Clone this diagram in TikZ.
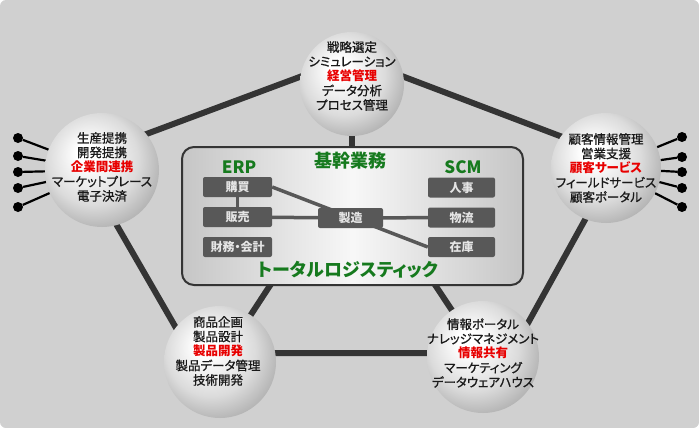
\documentclass[tikz,border=0pt]{standalone}
\usepackage{fontspec}
\usepackage{xcolor}
\usepackage{tikz}
\usetikzlibrary{positioning,backgrounds}

\newfontfamily\jp[RawFeature=+palt]{Noto Sans CJK JP}
\newfontfamily\jpm[RawFeature=+palt, FakeBold=0.9]{Noto Sans CJK JP}

\definecolor{bggray}{RGB}{208,208,208}
\definecolor{linegray}{RGB}{52,52,52}
\definecolor{itemgray}{RGB}{88,88,88}
\definecolor{titlegreen}{RGB}{22,122,30}
\definecolor{keyred}{RGB}{232,0,0}

\newcommand{\redkey}[1]{{\jp\bfseries\color{keyred}#1}}

\pgfdeclareradialshading{sphereshade}{\pgfpoint{-7bp}{8bp}}{%
  color(0bp)=(white); color(5bp)=(white); color(20bp)=(gray!28);
  color(29bp)=(gray!58); color(50bp)=(gray!58)}

\tikzset{
  sphere/.style={circle, shading=sphereshade, inner sep=0pt},
  spheretext/.style={align=center, inner sep=0pt, text=black!90,
    font=\jpm\fontsize{12.5}{14.5}\selectfont},
  item/.style={fill=itemgray, rounded corners=2pt, minimum height=20pt,
    inner sep=0pt, text=white!90!black, font=\jp\bfseries\fontsize{12}{14}\selectfont},
  title/.style={text=titlegreen, font=\jp\bfseries\fontsize{18}{21}\selectfont},
  link/.style={line width=6pt, draw=linegray, shorten <=-4pt, shorten >=-4pt},
  pin/.style={line width=2.2pt, draw=black},
  dot/.style={circle, fill=black, minimum size=10pt, inner sep=0pt},
  flow/.style={line width=3.5pt, draw=itemgray}
}

\begin{document}
\begin{tikzpicture}[x=1pt, y=-1pt]
\useasboundingbox (0,0) rectangle (699,428);

% nodes %
\node[sphere, minimum size=104pt] (plan) at (352,84) {};
\node[sphere, minimum size=114pt] (partner) at (102,170) {};
\node[sphere, minimum size=110pt] (customer) at (606,168) {};
\node[sphere, minimum size=112pt] (product) at (220,362) {};
\node[sphere, minimum size=112pt] (info) at (483,357) {};

\node[spheretext] (plantext) at (352,76) {戦略選定\\シミュレーション\\\redkey{経営管理}\\データ分析\\プロセス管理};
\node[spheretext] (partnertext) at (102,167) {生産提携\\開発提携\\\redkey{企業間連携}\\マーケットプレース\\電子決済};
\node[spheretext] (customertext) at (606,168) {顧客情報管理\\営業支援\\\redkey{顧客サービス}\\フィールドサービス\\顧客ポータル};
\node[spheretext] (producttext) at (218,351) {商品企画\\製品設計\\\redkey{製品開発}\\製品データ管理\\技術開発};
\node[spheretext] (infotext) at (483,353) {情報ポータル\\ナレッジマネジメント\\\redkey{情報共有}\\マーケティング\\データウェアハウス};

\node[item, minimum width=69pt] (kobai) at (237.5,187) {購買};
\node[item, minimum width=69pt] (hanbai) at (237.5,217) {販売};
\node[item, minimum width=69pt] (zaimu) at (237.5,247) {財務・会計};
\node[item, minimum width=65pt] (seizo) at (350.5,218) {製造};
\node[item, minimum width=67pt] (jinji) at (461.5,187.5) {人事};
\node[item, minimum width=67pt] (butsuryu) at (461.5,217.5) {物流};
\node[item, minimum width=67pt] (zaiko) at (461.5,247) {在庫};

\node[title, font=\jp\bfseries\fontsize{17}{19}\selectfont] (erp) at (239,167) {ERP};
\node[title] (kikan) at (350,161) {基幹業務};
\node[title, font=\jp\bfseries\fontsize{17}{19}\selectfont] (scm) at (463,167) {SCM};
\node[title] (logi) at (348,270) {トータルロジスティック};

\node[dot] (pl1) at (18,138) {};
\node[dot] (pl2) at (18,156) {};
\node[dot] (pl3) at (18,172) {};
\node[dot] (pl4) at (18,188) {};
\node[dot] (pl5) at (18,207) {};
\node[dot] (pr1) at (682,137) {};
\node[dot] (pr2) at (682,157) {};
\node[dot] (pr3) at (682,172) {};
\node[dot] (pr4) at (682,188) {};
\node[dot] (pr5) at (682,207) {};

\coordinate (hub) at (352,160);

\begin{pgfonlayer}{background}
\fill[bggray, rounded corners=6pt] (0,0) rectangle (699,428);

% edges %
\draw[link] (partner.39) -- (plan.172);
\draw[link] (plan.8) -- (customer.145);
\draw[link] (partner.-75) -- (product.142);
\draw[link] (customer.-112) -- (info.37);
\draw[link] (product.9) -- (info.176);
\draw[link] (plan) -- (hub);
\draw[link] (hub) -- (product);
\draw[link] (hub) -- (info);

\draw[pin] (partner) -- (pl1);
\draw[pin] (partner) -- (pl2);
\draw[pin] (partner) -- (pl3);
\draw[pin] (partner) -- (pl4);
\draw[pin] (partner) -- (pl5);
\draw[pin] (customer) -- (pr1);
\draw[pin] (customer) -- (pr2);
\draw[pin] (customer) -- (pr3);
\draw[pin] (customer) -- (pr4);
\draw[pin] (customer) -- (pr5);

% core box %
\node[draw=linegray, line width=2pt, rounded corners=12pt, minimum width=341pt,
  minimum height=138pt, left color=gray!45, right color=gray!45, middle color=gray!6] (core) at (352.5,216) {};

\draw[flow] (kobai) -- (hanbai);
\draw[flow] (hanbai) -- (seizo);
\draw[flow] (seizo) -- (butsuryu);
\draw[flow] (kobai.east) -- (zaiko.west);
\end{pgfonlayer}

\end{tikzpicture}
\end{document}
